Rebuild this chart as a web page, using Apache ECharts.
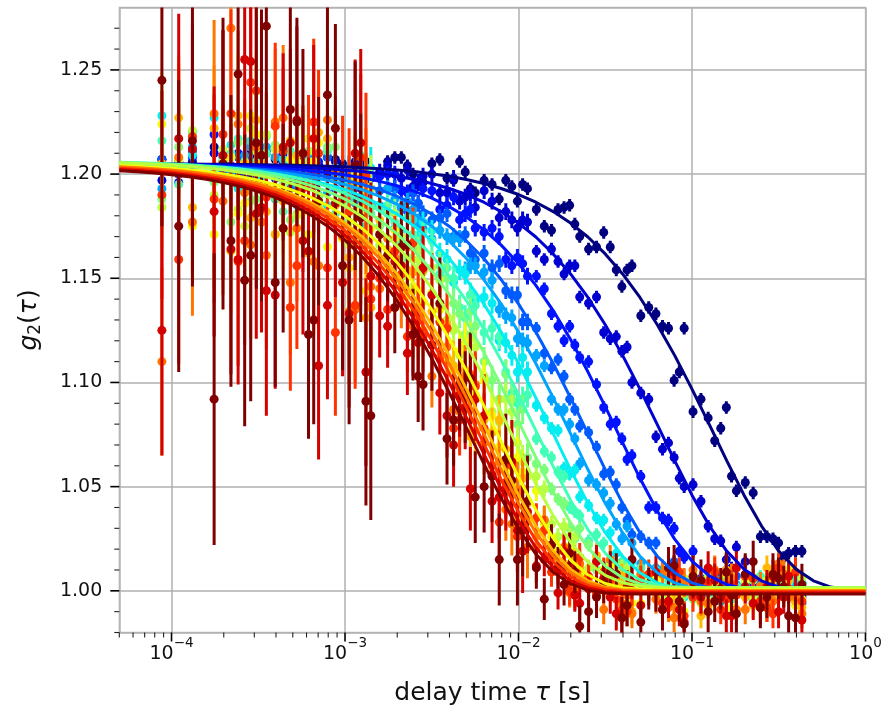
<!DOCTYPE html>
<html><head><meta charset="utf-8">
<script src="https://cdn.jsdelivr.net/npm/echarts@6/dist/echarts.min.js"></script>
<style>html,body{margin:0;padding:0;background:#fff}#c{width:888px;height:711px}</style>
</head><body><div id="c"></div>
<script>
// ---- delay times of the measured points (s) ----
const tau = [8.8e-5,1.1e-4,1.32e-4,1.76e-4,2.2e-4,2.64e-4,3.08e-4,3.52e-4,4.4e-4,5.28e-4,6.16e-4,7.04e-4,8.8e-4,1.056e-3,1.232e-3,1.408e-3,1.76e-3,2.112e-3,2.464e-3,2.816e-3,3.52e-3,4.224e-3,4.928e-3,5.632e-3,7.04e-3,8.448e-3,9.856e-3,1.1264e-2,1.408e-2,1.6896e-2,1.9712e-2,2.2528e-2,2.816e-2,3.3792e-2,3.9424e-2,4.5056e-2,5.632e-2,6.7584e-2,7.8848e-2,9.0112e-2,0.11264,0.135168,0.157696,0.180224,0.22528,0.270336,0.315392,0.360448,0.43];
// ---- intermediate correlator channels, short delays (s) ----
const tauEarly = [1.98e-4,2.42e-4,2.86e-4,3.3e-4,3.96e-4,4.84e-4,5.72e-4,6.6e-4,7.92e-4,9.68e-4,1.144e-3,1.32e-3];
// ---- intermediate correlator channels, long delays (s) ----
const tauMid = [1.584e-3,1.936e-3,2.288e-3,2.64e-3,3.168e-3,3.872e-3,4.576e-3,5.28e-3,6.336e-3,7.744e-3,9.152e-3,1.056e-2,1.2672e-2,1.5488e-2,1.8304e-2,2.112e-2,2.5344e-2,3.0976e-2,3.6608e-2,4.224e-2,5.0688e-2,6.1952e-2,7.3216e-2,8.448e-2,0.101376,0.123904,0.146432,0.16896,0.202752,0.247808,0.292864,0.33792,0.395];
// ---- delay times where the fit curves are sampled (s) ----
const fitTau = [5e-5,6.31e-5,7.943e-5,1e-4,1.259e-4,1.585e-4,1.995e-4,2.512e-4,3.162e-4,3.981e-4,5.012e-4,6.31e-4,7.943e-4,1e-3,1.259e-3,1.585e-3,1.995e-3,2.512e-3,3.162e-3,3.981e-3,5.012e-3,6.31e-3,7.943e-3,1e-2,1.259e-2,1.585e-2,1.995e-2,2.512e-2,3.162e-2,3.981e-2,5.012e-2,6.31e-2,7.943e-2,0.1,0.1259,0.1585,0.1995,0.2512,0.3162,0.3981,0.5012,0.631,0.7943,1];

// ---- measured g2 values at tau, one array per curve (navy -> dark red) ----
const g2_0 = [1.207,1.200,1.206,1.213,1.203,1.201,1.206,1.210,1.203,1.207,1.200,1.204,1.207,1.201,1.204,1.198,1.206,1.208,1.200,1.196,1.207,1.197,1.201,1.191,1.195,1.197,1.187,1.193,1.175,1.183,1.185,1.170,1.165,1.165,1.146,1.156,1.136,1.127,1.101,1.126,1.092,1.072,1.088,1.048,1.047,1.026,1.023,1.018,1.019];
const g2_1 = [1.197,1.206,1.201,1.210,1.204,1.200,1.207,1.202,1.210,1.201,1.198,1.204,1.206,1.196,1.203,1.198,1.204,1.198,1.194,1.199,1.191,1.198,1.189,1.184,1.187,1.182,1.174,1.177,1.159,1.158,1.156,1.141,1.141,1.121,1.115,1.100,1.092,1.068,1.064,1.050,1.043,1.025,1.015,1.021,1.006,0.998,1.005,1.006,0.998];
const g2_2 = [1.207,1.196,1.208,1.219,1.203,1.199,1.211,1.201,1.206,1.197,1.202,1.206,1.198,1.203,1.193,1.199,1.200,1.192,1.191,1.193,1.183,1.189,1.181,1.174,1.174,1.159,1.160,1.151,1.145,1.127,1.127,1.112,1.099,1.080,1.073,1.065,1.040,1.035,1.030,1.016,1.006,1.008,1.010,1.000,1.004,0.995,1.001,1.004,0.997];
const g2_3 = [1.207,1.200,1.211,1.203,1.197,1.207,1.197,1.211,1.200,1.194,1.203,1.201,1.193,1.203,1.187,1.193,1.193,1.184,1.191,1.181,1.179,1.170,1.171,1.159,1.155,1.144,1.142,1.129,1.114,1.111,1.092,1.079,1.069,1.057,1.040,1.027,1.023,1.010,1.014,1.005,0.998,1.004,0.999,1.007,0.997,0.995,1.001,1.004,0.994];
const g2_4 = [1.193,1.206,1.213,1.199,1.201,1.209,1.194,1.213,1.202,1.195,1.208,1.188,1.200,1.192,1.200,1.185,1.193,1.184,1.183,1.174,1.173,1.169,1.154,1.156,1.149,1.132,1.121,1.119,1.108,1.087,1.080,1.061,1.051,1.042,1.025,1.023,1.006,1.010,1.009,1.002,0.997,1.006,0.999,1.003,0.996,1.000,1.004,0.997,1.004];
const g2_5 = [1.228,1.202,1.209,1.227,1.214,1.197,1.204,1.192,1.207,1.185,1.198,1.190,1.203,1.188,1.182,1.203,1.182,1.173,1.178,1.177,1.162,1.148,1.152,1.139,1.138,1.119,1.105,1.105,1.083,1.077,1.056,1.045,1.035,1.028,1.011,1.014,1.003,1.007,1.001,0.997,1.003,0.996,1.006,0.999,0.995,1.002,1.001,0.997,1.004];
const g2_6 = [1.216,1.195,1.220,1.202,1.210,1.191,1.206,1.210,1.182,1.202,1.211,1.188,1.181,1.196,1.209,1.181,1.185,1.167,1.171,1.172,1.152,1.150,1.131,1.137,1.126,1.105,1.090,1.094,1.067,1.057,1.040,1.036,1.027,1.013,1.014,1.002,1.005,1.007,1.000,1.001,1.005,0.998,1.007,1.002,0.999,1.006,0.997,1.004,1.000];
const g2_7 = [1.188,1.213,1.218,1.196,1.177,1.206,1.188,1.218,1.195,1.181,1.206,1.188,1.213,1.177,1.166,1.184,1.181,1.159,1.167,1.154,1.156,1.138,1.123,1.127,1.101,1.104,1.080,1.064,1.058,1.044,1.030,1.030,1.010,1.009,1.009,1.000,1.007,1.000,1.003,0.998,1.005,0.996,1.002,0.999,1.005,1.000,0.998,1.008,1.000];
const g2_8 = [1.184,1.207,1.221,1.190,1.208,1.175,1.211,1.219,1.193,1.180,1.217,1.185,1.197,1.166,1.182,1.193,1.164,1.170,1.146,1.153,1.149,1.125,1.118,1.117,1.086,1.092,1.071,1.055,1.049,1.026,1.026,1.016,1.015,1.002,1.011,1.002,1.005,0.997,1.004,1.006,0.994,1.003,1.008,0.999,0.997,1.004,1.011,1.000,1.006];
const g2_9 = [1.224,1.207,1.175,1.171,1.208,1.186,1.219,1.194,1.174,1.206,1.171,1.215,1.177,1.155,1.184,1.174,1.155,1.165,1.134,1.139,1.135,1.106,1.119,1.092,1.084,1.058,1.064,1.033,1.032,1.019,1.021,1.008,1.001,1.012,1.000,0.994,1.004,1.007,0.998,0.990,1.002,0.995,1.008,0.999,0.994,1.005,0.998,1.010,0.996];
const g2_10 = [1.205,1.227,1.184,1.222,1.163,1.205,1.226,1.182,1.187,1.209,1.162,1.220,1.185,1.160,1.198,1.136,1.164,1.146,1.153,1.125,1.137,1.108,1.106,1.077,1.076,1.068,1.035,1.042,1.034,1.012,1.003,1.011,1.017,0.999,1.007,0.990,1.002,1.008,0.994,1.003,0.988,1.005,1.010,0.999,0.993,1.011,0.997,1.005,0.992];
const g2_11 = [1.110,1.208,1.177,1.229,1.270,1.191,1.213,1.161,1.227,1.174,1.195,1.156,1.202,1.134,1.172,1.146,1.169,1.141,1.127,1.154,1.112,1.087,1.103,1.099,1.060,1.039,1.047,1.021,1.034,1.012,0.999,1.013,0.999,1.015,0.994,0.989,1.002,1.008,0.987,1.004,0.995,1.010,0.999,0.991,1.006,0.992,1.013,0.997,0.989];
const g2_12 = [1.190,1.159,1.218,1.188,1.229,1.168,1.240,1.189,1.211,1.156,1.198,1.210,1.124,1.182,1.208,1.140,1.135,1.152,1.167,1.122,1.129,1.078,1.093,1.098,1.056,1.052,1.026,1.036,1.029,1.010,1.000,1.016,0.998,1.005,0.991,1.000,1.008,0.994,1.007,0.988,1.002,1.009,0.996,0.998,1.006,0.992,1.011,1.001,0.995];
const g2_13 = [1.125,1.217,1.212,1.182,1.164,1.255,1.181,1.144,1.213,1.226,1.163,1.108,1.186,1.133,1.215,1.151,1.127,1.156,1.123,1.155,1.095,1.070,1.088,1.092,1.043,1.049,1.029,1.038,1.015,0.999,1.012,0.994,1.014,0.997,0.987,1.004,1.001,0.991,1.009,0.985,0.997,1.005,0.988,1.011,0.994,1.002,0.990,1.007,0.986];
const g2_14 = [1.245,1.175,1.216,1.092,1.168,1.149,1.215,1.271,1.174,1.225,1.123,1.187,1.222,1.130,1.179,1.084,1.161,1.165,1.123,1.099,1.138,1.082,1.093,1.045,1.055,1.063,1.015,1.043,0.996,1.011,1.018,0.983,0.997,1.009,0.987,1.015,1.001,0.991,1.012,0.984,1.005,0.995,1.009,0.989,1.014,0.997,1.006,0.988,1.003];

// ---- measured g2 values at tauEarly ----
const ge_0 = [1.206,1.201,1.209,1.203,1.207,1.200,1.205,1.207,1.202,1.205,1.201,1.206];
const ge_1 = [1.206,1.201,1.210,1.203,1.199,1.206,1.202,1.207,1.199,1.200,1.206,1.195];
const ge_2 = [1.205,1.210,1.200,1.205,1.198,1.207,1.205,1.196,1.208,1.198,1.203,1.190];
const ge_3 = [1.201,1.208,1.197,1.199,1.208,1.193,1.202,1.194,1.208,1.196,1.189,1.199];
const ge_4 = [1.208,1.194,1.213,1.199,1.208,1.188,1.201,1.208,1.191,1.199,1.186,1.200];
const ge_5 = [1.206,1.193,1.216,1.199,1.188,1.206,1.194,1.206,1.185,1.187,1.202,1.175];
const ge_6 = [1.206,1.217,1.194,1.206,1.189,1.211,1.205,1.183,1.211,1.188,1.200,1.168];
const ge_7 = [1.197,1.215,1.187,1.192,1.214,1.178,1.200,1.182,1.213,1.186,1.169,1.192];
const ge_8 = [1.212,1.183,1.222,1.194,1.212,1.172,1.197,1.211,1.178,1.192,1.167,1.194];
const ge_9 = [1.206,1.181,1.228,1.193,1.171,1.207,1.182,1.206,1.165,1.169,1.199,1.144];
const ge_10 = [1.204,1.228,1.179,1.205,1.171,1.216,1.203,1.158,1.217,1.170,1.195,1.131];
const ge_11 = [1.187,1.224,1.166,1.177,1.225,1.148,1.196,1.158,1.226,1.170,1.135,1.187];
const ge_12 = [1.219,1.158,1.244,1.183,1.223,1.136,1.193,1.225,1.155,1.188,1.137,1.199];
const ge_13 = [1.209,1.159,1.254,1.184,1.142,1.215,1.168,1.217,1.137,1.148,1.210,1.105];
const ge_14 = [1.205,1.248,1.161,1.209,1.148,1.231,1.210,1.130,1.238,1.156,1.204,1.091];

// ---- measured g2 values at tauMid ----
const g2m_0 = [1.199,1.208,1.204,1.195,1.205,1.198,1.206,1.193,1.197,1.188,1.194,1.195,1.183,1.173,1.184,1.176,1.164,1.172,1.154,1.154,1.132,1.133,1.126,1.105,1.086,1.083,1.078,1.055,1.052,1.026,1.025,1.016,1.019];
const g2m_1 = [1.201,1.193,1.202,1.196,1.200,1.191,1.187,1.191,1.192,1.179,1.178,1.178,1.163,1.164,1.152,1.156,1.138,1.124,1.122,1.117,1.095,1.074,1.071,1.054,1.051,1.031,1.024,1.011,1.014,1.000,1.001,1.008,0.996];
const g2m_2 = [1.199,1.200,1.191,1.186,1.192,1.185,1.178,1.183,1.172,1.170,1.156,1.157,1.151,1.133,1.120,1.118,1.110,1.088,1.081,1.063,1.055,1.040,1.034,1.019,1.019,1.010,0.999,1.006,1.000,1.006,0.997,1.001,0.996];
const g2m_3 = [1.192,1.193,1.182,1.186,1.178,1.181,1.169,1.162,1.162,1.157,1.142,1.129,1.126,1.107,1.103,1.087,1.076,1.056,1.051,1.034,1.026,1.023,1.008,1.008,0.998,1.005,1.000,1.005,0.998,0.995,1.002,1.006,0.997];
const g2m_4 = [1.185,1.188,1.187,1.177,1.169,1.170,1.169,1.156,1.153,1.135,1.131,1.120,1.113,1.092,1.087,1.073,1.053,1.047,1.032,1.031,1.013,1.011,1.001,1.006,1.006,0.999,0.995,1.003,1.001,0.997,1.005,0.999,1.003];
const g2m_5 = [1.184,1.174,1.179,1.169,1.173,1.159,1.154,1.142,1.141,1.120,1.113,1.112,1.089,1.078,1.059,1.058,1.041,1.034,1.018,1.010,1.011,1.010,0.999,1.001,1.004,0.995,1.001,0.997,1.005,0.998,0.996,1.002,1.006];
const g2m_6 = [1.184,1.177,1.179,1.164,1.168,1.155,1.136,1.142,1.124,1.122,1.095,1.092,1.073,1.064,1.055,1.038,1.024,1.023,1.013,1.006,1.011,1.002,1.005,0.997,1.004,1.006,0.999,0.996,1.002,1.007,1.000,1.005,0.998];
const g2m_7 = [1.175,1.181,1.160,1.163,1.143,1.150,1.133,1.134,1.110,1.092,1.092,1.087,1.061,1.049,1.042,1.025,1.022,1.010,1.013,1.004,1.000,1.005,1.008,1.001,0.996,1.003,0.998,1.006,1.000,1.002,0.997,1.004,0.997];
const g2m_8 = [1.166,1.169,1.151,1.159,1.155,1.130,1.113,1.121,1.103,1.081,1.086,1.062,1.055,1.032,1.031,1.026,1.011,1.001,1.006,1.010,1.000,1.006,0.997,1.003,1.001,1.007,0.998,1.007,1.004,0.995,1.006,1.001,1.009];
const g2m_9 = [1.171,1.173,1.144,1.144,1.143,1.110,1.115,1.095,1.101,1.069,1.051,1.057,1.048,1.026,1.010,1.015,1.003,1.010,1.000,1.002,0.994,1.005,0.994,0.998,1.008,0.995,1.002,0.992,1.006,0.999,1.007,0.997,0.993];
const g2m_10 = [1.178,1.150,1.154,1.123,1.134,1.128,1.096,1.074,1.082,1.082,1.047,1.054,1.026,1.022,1.013,1.016,1.001,1.009,1.003,0.993,1.006,0.999,1.009,0.995,1.002,0.993,1.004,1.007,0.997,0.992,1.005,1.001,0.995];
const g2m_11 = [1.145,1.160,1.165,1.132,1.103,1.117,1.086,1.104,1.071,1.062,1.032,1.049,1.021,1.015,1.021,1.001,1.006,0.991,1.007,0.998,1.008,0.996,0.992,1.004,1.010,0.994,0.999,1.006,0.991,1.002,0.995,1.008,0.997];
const g2m_12 = [1.150,1.163,1.122,1.136,1.118,1.126,1.082,1.103,1.078,1.033,1.060,1.031,1.035,1.009,1.011,0.998,1.007,1.009,0.996,0.990,1.005,1.000,0.994,1.009,0.997,1.004,0.991,1.003,1.007,0.995,0.989,1.001,1.009];
const g2m_13 = [1.132,1.158,1.114,1.119,1.142,1.084,1.094,1.049,1.084,1.045,1.062,1.019,1.012,1.017,1.019,0.998,1.001,1.006,0.989,1.002,0.993,1.009,0.995,0.991,1.004,1.011,0.997,0.988,1.002,0.992,1.007,0.997,1.000];
const g2m_14 = [1.171,1.136,1.166,1.103,1.118,1.073,1.099,1.102,1.050,1.015,1.053,1.029,1.011,1.022,1.003,1.009,0.990,1.004,1.008,0.993,0.985,1.000,1.011,0.995,1.007,0.990,1.001,0.998,1.008,0.992,1.008,1.002,0.987];

// ---- error bar half-lengths at tau (neighbouring channels share these values) ----
const err_0 = [.004,.004,.004,.004,.004,.004,.004,.004, .004,.004,.004,.004,.004,.004,.004,.004, .003,.003,.003,.003,.003,.003,.003,.003,.003,.003,.003,.003, .003,.003,.003,.003,.003,.003,.003, .003,.003,.003,.003,.003,.003,.003, .003,.003,.003,.003,.003,.003,.003];
const err_1 = [.005,.005,.005,.005,.005,.005,.005,.005, .004,.004,.004,.004,.004,.004,.004,.004, .004,.004,.004,.004,.004,.004,.004,.004,.004,.004,.004,.004, .003,.003,.003,.003,.003,.003,.003, .003,.003,.003,.003,.003,.003,.003, .003,.003,.003,.003,.003,.003,.003];
const err_2 = [.006,.006,.006,.006,.006,.006,.006,.006, .005,.005,.005,.005,.005,.005,.005,.005, .004,.004,.004,.004,.004,.004,.004,.004,.004,.004,.004,.004, .003,.003,.003,.003,.003,.003,.003, .003,.003,.003,.003,.003,.003,.003, .003,.003,.003,.003,.003,.003,.003];
const err_3 = [.008,.008,.008,.008,.008,.008,.008,.008, .006,.006,.006,.006,.006,.006,.006,.006, .004,.004,.004,.004,.004,.004,.004,.004,.004,.004,.004,.004, .003,.003,.003,.003,.003,.003,.003, .003,.003,.003,.003,.003,.003,.003, .003,.003,.003,.003,.003,.003,.003];
const err_4 = [.010,.010,.010,.010,.010,.010,.010,.010, .008,.008,.008,.008,.008,.008,.008,.008, .004,.004,.004,.004,.004,.004,.004,.004,.004,.004,.004,.004, .003,.003,.003,.003,.003,.003,.003, .003,.003,.003,.003,.003,.003,.003, .003,.003,.003,.003,.003,.003,.003];
const err_5 = [.012,.012,.012,.012,.012,.012,.012,.012, .010,.010,.010,.010,.010,.010,.010,.010, .005,.005,.005,.005,.005,.005,.005,.005,.005,.005,.005,.005, .003,.003,.003,.003,.003,.003,.003, .003,.003,.003,.003,.003,.003,.003, .003,.003,.003,.003,.003,.003,.003];
const err_6 = [.015,.015,.015,.015,.015,.015,.015,.015, .012,.012,.012,.012,.012,.012,.012,.012, .006,.006,.006,.006,.006,.006,.006,.006,.006,.006,.006,.006, .003,.003,.003,.003,.003,.003,.003, .003,.003,.003,.003,.003,.003,.003, .003,.003,.003,.003,.003,.003,.003];
const err_7 = [.018,.018,.018,.018,.018,.018,.018,.018, .014,.014,.014,.014,.014,.014,.014,.014, .007,.007,.007,.007,.007,.007,.007,.007,.007,.007,.007,.007, .003,.003,.003,.003,.003,.003,.003, .003,.003,.003,.003,.003,.003,.003, .003,.003,.003,.003,.003,.003,.003];
const err_8 = [.020,.020,.020,.020,.020,.020,.020,.020, .016,.016,.016,.016,.016,.016,.016,.016, .008,.008,.008,.008,.008,.008,.008,.008,.008,.008,.008,.008, .004,.004,.004,.004,.004,.004,.004, .004,.004,.004,.004,.004,.004,.004, .004,.004,.004,.004,.004,.004,.004];
const err_9 = [.025,.025,.025,.025,.025,.025,.025,.025, .020,.020,.020,.020,.020,.020,.020,.020, .010,.010,.010,.010,.010,.010,.010,.010,.010,.010,.010,.010, .005,.005,.005,.005,.005,.005,.005, .005,.005,.005,.005,.005,.005,.005, .005,.005,.005,.005,.005,.005,.005];
const err_10 = [.030,.030,.030,.030,.030,.030,.030,.030, .025,.025,.025,.025,.025,.025,.025,.025, .012,.012,.012,.012,.012,.012,.012,.012,.012,.012,.012,.012, .006,.006,.006,.006,.006,.006,.006, .006,.006,.006,.006,.006,.006,.006, .006,.006,.006,.006,.006,.006,.006];
const err_11 = [.045,.045,.045,.045,.045,.045,.045,.045, .035,.035,.035,.035,.035,.035,.035,.035, .015,.015,.015,.015,.015,.015,.015,.015,.015,.015,.015,.015, .007,.007,.007,.007,.007,.007,.007, .007,.007,.007,.007,.007,.007,.007, .007,.007,.007,.007,.007,.007,.007];
const err_12 = [.050,.050,.050,.050,.050,.050,.050,.050, .040,.040,.040,.040,.040,.040,.040,.040, .017,.017,.017,.017,.017,.017,.017,.017,.017,.017,.017,.017, .007,.007,.007,.007,.007,.007,.007, .007,.007,.007,.007,.007,.007,.007, .007,.007,.007,.007,.007,.007,.007];
const err_13 = [.060,.060,.060,.060,.060,.060,.060,.060, .045,.045,.045,.045,.045,.045,.045,.045, .020,.020,.020,.020,.020,.020,.020,.020,.020,.020,.020,.020, .008,.008,.008,.008,.008,.008,.008, .008,.008,.008,.008,.008,.008,.008, .008,.008,.008,.008,.008,.008,.008];
const err_14 = [.070,.070,.070,.070,.070,.070,.070,.070, .050,.050,.050,.050,.050,.050,.050,.050, .022,.022,.022,.022,.022,.022,.022,.022,.022,.022,.022,.022, .010,.010,.010,.010,.010,.010,.010, .010,.010,.010,.010,.010,.010,.010, .010,.010,.010,.010,.010,.010,.010];

// ---- fit curves sampled at fitTau ----
const fit_0 = [1.2049,1.2049,1.2049,1.2048,1.2048,1.2047,1.2047,1.2046,1.2045,1.2044,1.2042,1.2040,1.2038,1.2035,1.2031,1.2026,1.2020,1.2012,1.2002,1.1990,1.1974,1.1955,1.1931,1.1902,1.1865,1.1820,1.1765,1.1698,1.1617,1.1521,1.1408,1.1277,1.1130,1.0968,1.0798,1.0625,1.0459,1.0312,1.0191,1.0104,1.0048,1.0018,1.0005,1.0001];
const fit_1 = [1.2048,1.2048,1.2047,1.2047,1.2046,1.2045,1.2044,1.2042,1.2040,1.2038,1.2035,1.2031,1.2026,1.2020,1.2012,1.2002,1.1990,1.1974,1.1955,1.1931,1.1902,1.1865,1.1820,1.1765,1.1698,1.1617,1.1521,1.1408,1.1277,1.1130,1.0968,1.0798,1.0625,1.0459,1.0312,1.0191,1.0104,1.0048,1.0018,1.0005,1.0001,1.0000,1.0000,1.0000];
const fit_2 = [1.2047,1.2046,1.2045,1.2045,1.2043,1.2042,1.2039,1.2036,1.2033,1.2028,1.2023,1.2016,1.2007,1.1996,1.1982,1.1965,1.1944,1.1917,1.1885,1.1844,1.1794,1.1733,1.1659,1.1571,1.1466,1.1345,1.1206,1.1051,1.0884,1.0711,1.0540,1.0383,1.0248,1.0143,1.0072,1.0030,1.0010,1.0003,1.0000,1.0000,1.0000,1.0000,1.0000,1.0000];
const fit_3 = [1.2046,1.2045,1.2044,1.2042,1.2040,1.2037,1.2034,1.2030,1.2024,1.2018,1.2010,1.1999,1.1986,1.1970,1.1950,1.1925,1.1893,1.1855,1.1808,1.1750,1.1679,1.1595,1.1494,1.1377,1.1242,1.1091,1.0926,1.0754,1.0582,1.0420,1.0279,1.0166,1.0087,1.0038,1.0014,1.0004,1.0001,1.0000,1.0000,1.0000,1.0000,1.0000,1.0000,1.0000];
const fit_4 = [1.2045,1.2044,1.2042,1.2040,1.2037,1.2034,1.2030,1.2024,1.2018,1.2010,1.1999,1.1986,1.1970,1.1950,1.1925,1.1893,1.1855,1.1808,1.1750,1.1679,1.1595,1.1494,1.1377,1.1242,1.1091,1.0926,1.0754,1.0582,1.0420,1.0279,1.0166,1.0087,1.0038,1.0014,1.0004,1.0001,1.0000,1.0000,1.0000,1.0000,1.0000,1.0000,1.0000,1.0000];
const fit_5 = [1.2044,1.2042,1.2040,1.2037,1.2034,1.2030,1.2024,1.2018,1.2010,1.1999,1.1986,1.1970,1.1950,1.1925,1.1893,1.1855,1.1808,1.1750,1.1679,1.1595,1.1494,1.1377,1.1242,1.1091,1.0926,1.0754,1.0582,1.0420,1.0279,1.0166,1.0087,1.0038,1.0014,1.0004,1.0001,1.0000,1.0000,1.0000,1.0000,1.0000,1.0000,1.0000,1.0000,1.0000];
const fit_6 = [1.2057,1.2055,1.2052,1.2049,1.2045,1.2039,1.2033,1.2025,1.2014,1.2001,1.1985,1.1965,1.1940,1.1908,1.1870,1.1823,1.1765,1.1694,1.1610,1.1509,1.1392,1.1257,1.1106,1.0941,1.0769,1.0597,1.0435,1.0294,1.0181,1.0102,1.0053,1.0029,1.0019,1.0016,1.0015,1.0015,1.0015,1.0015,1.0015,1.0015,1.0015,1.0015,1.0015,1.0015];
const fit_7 = [1.2055,1.2053,1.2050,1.2046,1.2041,1.2035,1.2027,1.2017,1.2005,1.1989,1.1970,1.1946,1.1917,1.1880,1.1835,1.1780,1.1713,1.1632,1.1536,1.1423,1.1292,1.1145,1.0983,1.0813,1.0640,1.0474,1.0327,1.0206,1.0119,1.0063,1.0033,1.0020,1.0016,1.0015,1.0015,1.0015,1.0015,1.0015,1.0015,1.0015,1.0015,1.0015,1.0015,1.0015];
const fit_8 = [1.2054,1.2051,1.2047,1.2042,1.2036,1.2029,1.2020,1.2008,1.1994,1.1975,1.1953,1.1925,1.1890,1.1847,1.1795,1.1731,1.1654,1.1562,1.1453,1.1326,1.1183,1.1025,1.0856,1.0682,1.0514,1.0361,1.0233,1.0137,1.0074,1.0039,1.0022,1.0017,1.0015,1.0015,1.0015,1.0015,1.0015,1.0015,1.0015,1.0015,1.0015,1.0015,1.0015,1.0015];
const fit_9 = [1.2041,1.2038,1.2033,1.2028,1.2021,1.2012,1.2001,1.1987,1.1970,1.1949,1.1922,1.1890,1.1849,1.1799,1.1738,1.1664,1.1576,1.1471,1.1350,1.1211,1.1056,1.0889,1.0716,1.0545,1.0388,1.0253,1.0148,1.0077,1.0035,1.0015,1.0008,1.0005,1.0005,1.0005,1.0005,1.0005,1.0005,1.0005,1.0005,1.0005,1.0005,1.0005,1.0005,1.0005];
const fit_10 = [1.2035,1.2031,1.2026,1.2020,1.2012,1.2002,1.1990,1.1974,1.1955,1.1931,1.1902,1.1865,1.1820,1.1765,1.1698,1.1617,1.1521,1.1408,1.1277,1.1130,1.0968,1.0798,1.0625,1.0459,1.0312,1.0191,1.0104,1.0048,1.0018,1.0005,1.0001,1.0000,1.0000,1.0000,1.0000,1.0000,1.0000,1.0000,1.0000,1.0000,1.0000,1.0000,1.0000,1.0000];
const fit_11 = [1.2034,1.2030,1.2024,1.2018,1.2010,1.1999,1.1986,1.1970,1.1950,1.1925,1.1893,1.1855,1.1808,1.1750,1.1679,1.1595,1.1494,1.1377,1.1242,1.1091,1.0926,1.0754,1.0582,1.0420,1.0279,1.0166,1.0087,1.0038,1.0014,1.0004,1.0001,1.0000,1.0000,1.0000,1.0000,1.0000,1.0000,1.0000,1.0000,1.0000,1.0000,1.0000,1.0000,1.0000];
const fit_12 = [1.2028,1.2023,1.2018,1.2011,1.2002,1.1991,1.1977,1.1960,1.1939,1.1912,1.1880,1.1839,1.1789,1.1728,1.1654,1.1566,1.1461,1.1340,1.1201,1.1046,1.0879,1.0706,1.0535,1.0378,1.0243,1.0138,1.0067,1.0025,1.0005,0.9998,0.9995,0.9995,0.9995,0.9995,0.9995,0.9995,0.9995,0.9995,0.9995,0.9995,0.9995,0.9995,0.9995,0.9995];
const fit_13 = [1.2022,1.2017,1.2011,1.2004,1.1995,1.1983,1.1969,1.1950,1.1928,1.1900,1.1865,1.1822,1.1770,1.1706,1.1629,1.1537,1.1428,1.1301,1.1158,1.1000,1.0831,1.0657,1.0489,1.0336,1.0208,1.0112,1.0049,1.0014,0.9997,0.9992,0.9990,0.9990,0.9990,0.9990,0.9990,0.9990,0.9990,0.9990,0.9990,0.9990,0.9990,0.9990,0.9990,0.9990];
const fit_14 = [1.2016,1.2011,1.2005,1.1997,1.1987,1.1975,1.1959,1.1940,1.1916,1.1887,1.1850,1.1805,1.1750,1.1683,1.1602,1.1506,1.1393,1.1262,1.1115,1.0953,1.0783,1.0610,1.0444,1.0297,1.0176,1.0089,1.0033,1.0003,0.9990,0.9986,0.9985,0.9985,0.9985,0.9985,0.9985,0.9985,0.9985,0.9985,0.9985,0.9985,0.9985,0.9985,0.9985,0.9985];

// ---- axis ticks ----
const xMajorTicks = [1e-4,1e-3,1e-2,1e-1,1];
const xMinorTicks = [5e-5,6e-5,7e-5,8e-5,9e-5,2e-4,3e-4,4e-4,5e-4,6e-4,7e-4,8e-4,9e-4,2e-3,3e-3,4e-3,5e-3,6e-3,7e-3,8e-3,9e-3,2e-2,3e-2,4e-2,5e-2,6e-2,7e-2,8e-2,9e-2,0.2,0.3,0.4,0.5,0.6,0.7,0.8,0.9];
const yMajorTicks = [1.00,1.05,1.10,1.15,1.20,1.25];
const yMinorTicks = [0.98,0.99,1.01,1.02,1.03,1.04,1.06,1.07,1.08,1.09,1.11,1.12,1.13,1.14,1.16,1.17,1.18,1.19,1.21,1.22,1.23,1.24,1.26,1.27];

// ---- colours (jet colormap, 15 levels) ----
const curveColors = ['#000080','#0000d1','#0012ff','#005bff','#00a4ff','#06edf1','#41ffb6','#7bff7b','#b6ff41','#f1fc06','#ffb900','#ff7500','#ff3200','#d20000','#800000'];

const g2Sets = [g2_0,g2_1,g2_2,g2_3,g2_4,g2_5,g2_6,g2_7,g2_8,g2_9,g2_10,g2_11,g2_12,g2_13,g2_14];
const g2EarlySets = [ge_0,ge_1,ge_2,ge_3,ge_4,ge_5,ge_6,ge_7,ge_8,ge_9,ge_10,ge_11,ge_12,ge_13,ge_14];
const g2MidSets = [g2m_0,g2m_1,g2m_2,g2m_3,g2m_4,g2m_5,g2m_6,g2m_7,g2m_8,g2m_9,g2m_10,g2m_11,g2m_12,g2m_13,g2m_14];
const errSets = [err_0,err_1,err_2,err_3,err_4,err_5,err_6,err_7,err_8,err_9,err_10,err_11,err_12,err_13,err_14];
const fitSets = [fit_0,fit_1,fit_2,fit_3,fit_4,fit_5,fit_6,fit_7,fit_8,fit_9,fit_10,fit_11,fit_12,fit_13,fit_14];

const X_MIN = 5e-5, X_MAX = 1, Y_MIN = 0.98, Y_MAX = 1.28;
const FONT = 'DejaVu Sans';

function errRender(color) {
  return function (params, api) {
    const x = api.value(0), y = api.value(1), e = api.value(2);
    const c = api.coord([x, y]);
    const t = api.coord([x, y + e]);
    const b = api.coord([x, y - e]);
    return { type: 'group', children: [
      { type: 'line', shape: { x1: c[0], y1: t[1], x2: c[0], y2: b[1] }, style: { stroke: color, lineWidth: 3 } },
      { type: 'circle', shape: { cx: c[0], cy: c[1], r: 4.5 }, style: { fill: color } }
    ]};
  };
}

const series = [];
for (let s = 0; s < g2Sets.length; s++) {
  const col = curveColors[s];
  const pts = tau.map((t, i) => [t, g2Sets[s][i], errSets[s][i]])
    .concat(tauEarly.map((t, q) => [t, g2EarlySets[s][q], errSets[s][4 + q]]))
    .concat(tauMid.map((t, j) => [t, g2MidSets[s][j], errSets[s][16 + j]]));
  series.push({
    type: 'custom', renderItem: errRender(col), clip: true, silent: true,
    encode: { x: 0, y: 1 }, data: pts
  });
  series.push({
    type: 'line', showSymbol: false, symbol: 'none', clip: true, silent: true,
    lineStyle: { color: col, width: 3 }, itemStyle: { color: col },
    data: fitTau.map((t, i) => [t, fitSets[s][i]])
  });
}
// x-axis ticks
series.push({
  type: 'custom', clip: false, silent: true, z: 10, encode: { x: 0, y: 1 },
  data: xMajorTicks.map(v => [v, Y_MIN, 1]).concat(xMinorTicks.map(v => [v, Y_MIN, 0])),
  renderItem: (p, api) => {
    const c = api.coord([api.value(0), Y_MIN]);
    const major = api.value(2) === 1;
    const len = major ? 9 : 5;
    return { type: 'line', shape: { x1: c[0], y1: c[1], x2: c[0], y2: c[1] + len },
      style: { stroke: major ? '#000' : '#222', lineWidth: major ? 1.6 : 1.1 } };
  }
});
// y-axis ticks
series.push({
  type: 'custom', clip: false, silent: true, z: 10, encode: { x: 0, y: 1 },
  data: yMajorTicks.map(v => [X_MIN, v, 1]).concat(yMinorTicks.map(v => [X_MIN, v, 0])),
  renderItem: (p, api) => {
    const c = api.coord([X_MIN, api.value(1)]);
    const major = api.value(2) === 1;
    const len = major ? 9 : 5;
    return { type: 'line', shape: { x1: c[0] - len, y1: c[1], x2: c[0], y2: c[1] },
      style: { stroke: major ? '#000' : '#222', lineWidth: major ? 1.6 : 1.1 } };
  }
});

const chart = echarts.init(document.getElementById('c'), null, { renderer: 'canvas' });
chart.setOption({
  animation: false,
  textStyle: { fontFamily: FONT },
  grid: { left: 119.3, right: 22.5, top: 7.4, bottom: 77.6, show: true, borderColor: '#bdbdbd', borderWidth: 1.3, backgroundColor: 'transparent' },
  xAxis: {
    type: 'log', logBase: 10, min: X_MIN, max: X_MAX,
    axisLine: { show: false }, axisTick: { show: false },
    splitLine: { show: true, lineStyle: { color: '#b0b0b0', width: 1.5 } },
    axisLabel: {
      margin: 9, showMinLabel: false,
      formatter: function (v) {
        const l = Math.log10(v), e = Math.round(l);
        if (Math.abs(l - e) > 1e-6) return '';
        return '{b|10}{s|' + (e < 0 ? '\u2212' + (-e) : e) + '}';
      },
      rich: {
        b: { fontFamily: FONT, fontSize: 19, color: '#111', lineHeight: 22, verticalAlign: 'bottom' },
        s: { fontFamily: FONT, fontSize: 13.5, color: '#111', lineHeight: 15, verticalAlign: 'bottom', padding: [0, 0, 13, 0] }
      }
    },
    name: '{n|delay time }{i|\u03c4}{n| [s]}', nameLocation: 'middle', nameGap: 47,
    nameTextStyle: { rich: {
      n: { fontFamily: FONT, fontSize: 25, color: '#111', lineHeight: 28 },
      i: { fontFamily: FONT, fontSize: 25, color: '#111', lineHeight: 28, fontStyle: 'italic' }
    } }
  },
  yAxis: {
    type: 'value', min: Y_MIN, max: Y_MAX,
    axisLine: { show: false }, axisTick: { show: false },
    splitLine: { show: true, lineStyle: { color: '#b0b0b0', width: 1.5 } },
    axisLabel: { margin: 17, fontFamily: FONT, fontSize: 19, color: '#111', showMinLabel: false, showMaxLabel: false,
      formatter: v => v.toFixed(2) },
    name: '{i|g}{sub|2}{n|(}{i|\u03c4}{n|)}', nameLocation: 'middle', nameRotate: 90, nameGap: 75,
    nameTextStyle: { rich: {
      i: { fontFamily: FONT, fontSize: 25, color: '#111', fontStyle: 'italic', lineHeight: 30 },
      n: { fontFamily: FONT, fontSize: 25, color: '#111', lineHeight: 30 },
      sub: { fontFamily: FONT, fontSize: 17, color: '#111', lineHeight: 30, padding: [12, 0, 0, 0] }
    } }
  },
  series: series
});
</script>
</body></html>
